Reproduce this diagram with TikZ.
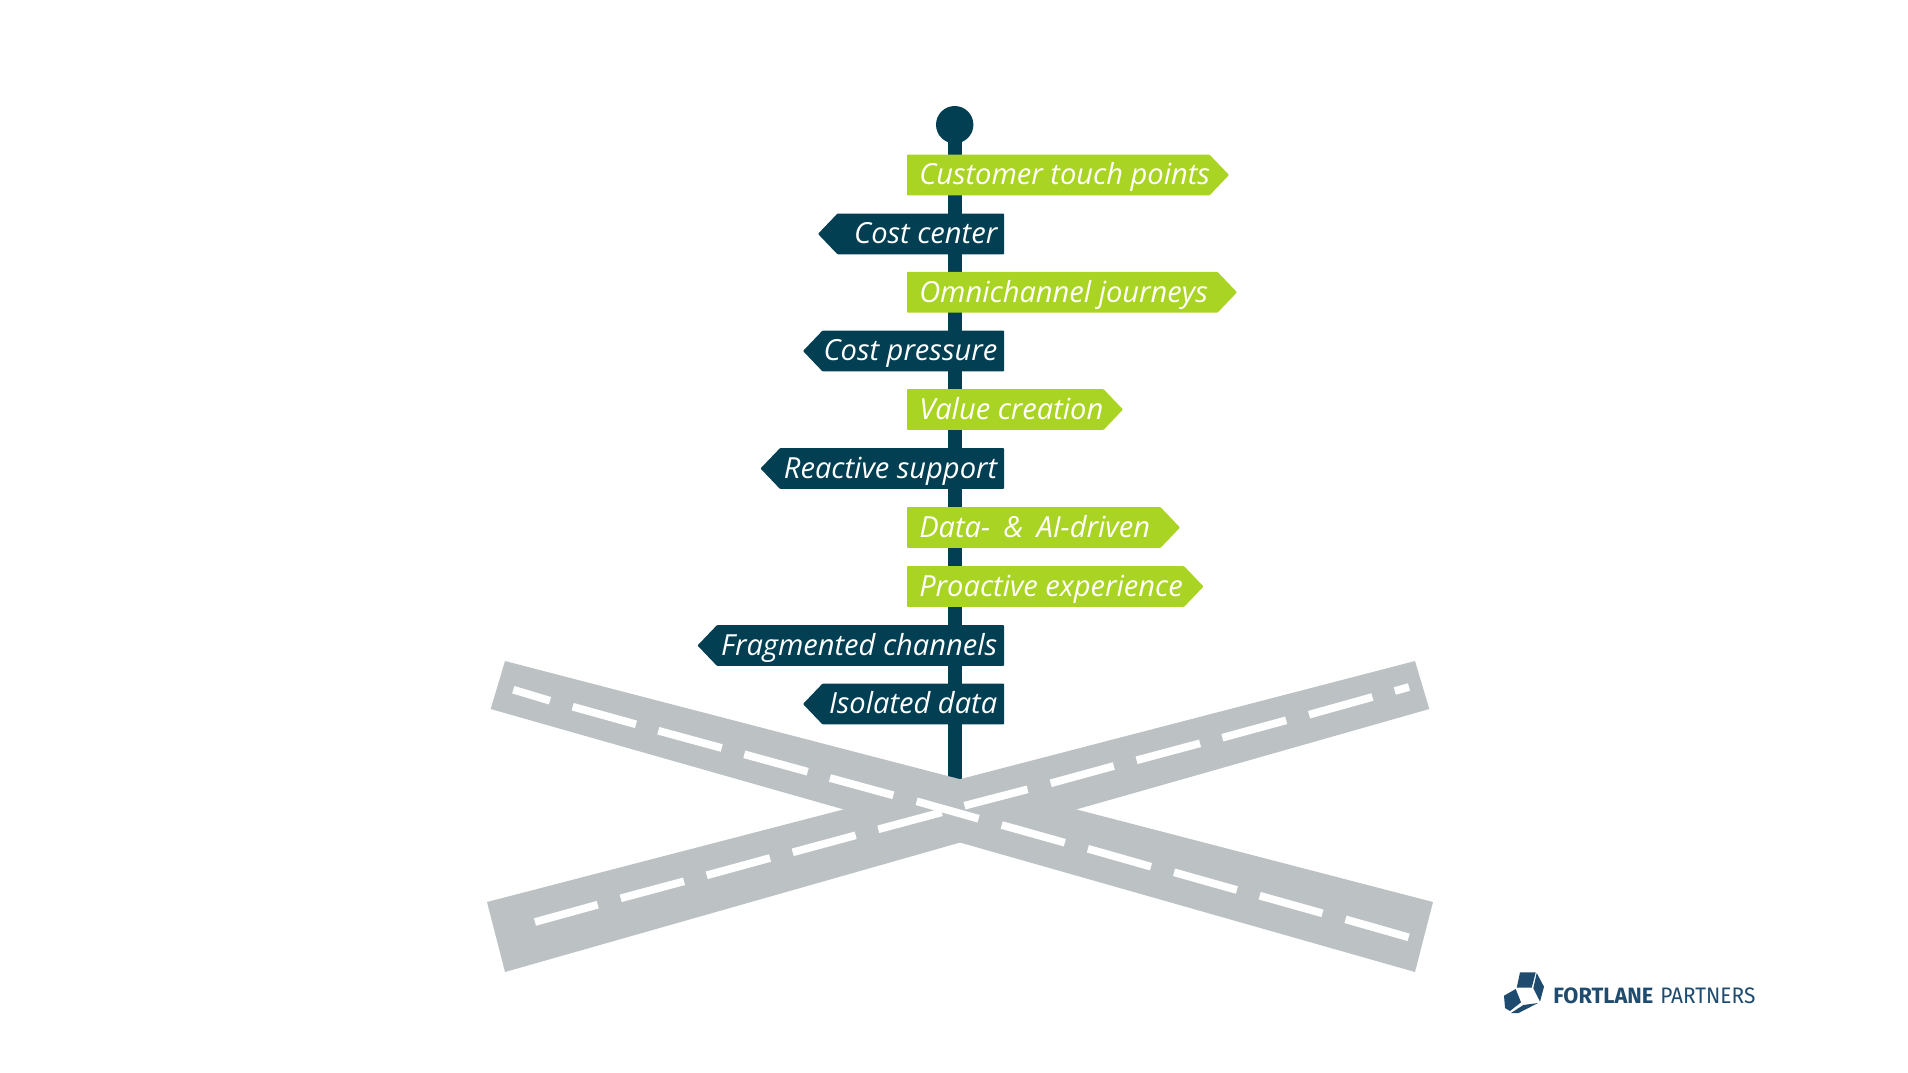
\documentclass[tikz,border=0pt]{standalone}
\usepackage{fontspec}
\setmainfont{Open Sans}
\newfontfamily\logofont{Fira Sans}
\definecolor{polecol}{HTML}{023F53}
\definecolor{greencol}{HTML}{AAD424}
\definecolor{roadcol}{HTML}{BCC2C4}
\definecolor{logocol}{HTML}{1F4B6E}
\tikzset{
  road/.style={fill=roadcol},
  lane/.style={draw=white,line width=5.8pt},
  signtext/.style={text=white,inner sep=0pt,font=\fontsize{21.8pt}{26pt}\selectfont\itshape},
  logomark/.style={fill=logocol},
  logotext/.style={anchor=base west,inner sep=0pt,text=logocol,font=\logofont},
}
\newcommand{\greensign}[4]{% name, y centre, tip x, text
  \fill[greencol,rounded corners=0.6pt] (907,#2-20.4) -- (#3-19.5,#2-20.4) -- (#3,#2) -- (#3-19.5,#2+20.4) -- (907,#2+20.4) -- cycle;
  \node[signtext,anchor=base west] (#1) at (919,#2+9.8) {#4};
}
\newcommand{\bluesign}[4]{%
  \fill[polecol,rounded corners=0.6pt] (1004,#2-20.4) -- (#3+19.5,#2-20.4) -- (#3,#2) -- (#3+19.5,#2+20.4) -- (1004,#2+20.4) -- cycle;
  \node[signtext,anchor=base east] (#1) at (997.5,#2+9.8) {#4};
}
\begin{document}
\begin{tikzpicture}[x=0.75pt,y=-0.75pt]
\useasboundingbox (0,0) rectangle (1908,1072);
% pole
\fill[polecol] (947.8,130) rectangle (961.5,790);
\fill[polecol] (954.7,124.7) circle[radius=18.7];
% roads
\fill[road] (505,661) -- (1433,902) -- (1415,972) -- (490.7,709) -- cycle;
\fill[road] (487,902) -- (1415,661) -- (1429.3,709) -- (505,972) -- cycle;
% road 2 lanes
\draw[lane] (535,922) -- (597.7,904.7);
\draw[lane] (620.7,898.3) -- (684,881.3);
\draw[lane] (706.7,875.3) -- (770,858);
\draw[lane] (792.7,852.3) -- (855.7,835.3);
\draw[lane] (878.3,829.3) -- (941.7,812.3);
\draw[lane] (964.5,805.7) -- (1027.6,789.3);
\draw[lane] (1050.7,783.3) -- (1113.8,766);
\draw[lane] (1136.6,760.3) -- (1200,743.3);
\draw[lane] (1222.4,737.7) -- (1286.2,720.3);
\draw[lane] (1309,714.7) -- (1372.4,697);
\draw[lane] (1394.8,691) -- (1409,687);
% road 1 lanes
\draw[lane] (513.3,689.7) -- (550,700.7);
\draw[lane] (572.7,706.7) -- (636,724.3);
\draw[lane] (658.3,730.7) -- (721.7,748);
\draw[lane] (744.3,754.3) -- (807.7,771.7);
\draw[lane] (830,778) -- (893.3,795.3);
\draw[lane] (916.6,801.3) -- (978.6,818.7);
\draw[lane] (1001.7,825) -- (1064.8,842.7);
\draw[lane] (1087.9,848.7) -- (1151,866.7);
\draw[lane] (1174.1,872.3) -- (1236.9,890);
\draw[lane] (1259.7,895.7) -- (1322.4,913.3);
\draw[lane] (1345.5,919.3) -- (1408.6,937.3);
% signs
\greensign{s1}{175}{1229}{Customer touch points}
\bluesign{s2}{233.9}{818}{Cost center}
\greensign{s3}{292.3}{1237}{Omnichannel journeys}
\bluesign{s4}{351}{803}{Cost pressure}
\greensign{s5}{409.5}{1123}{Value creation}
\bluesign{s6}{468.5}{760.5}{Reactive support}
\greensign{s7}{527.5}{1180}{Data-\hspace{0.2em} \&\hspace{0.2em} AI-driven}
\greensign{s8}{586.5}{1203.5}{Proactive experience}
\bluesign{s9}{645.5}{697.5}{Fragmented channels}
\bluesign{s10}{704}{803}{Isolated data}
% logo
\fill[logomark] (1520,972.3) -- (1535.7,972.3) -- (1531.7,987.7) -- (1516.7,987.7) -- cycle;
\fill[logomark] (1536.7,973) -- (1544,986.7) -- (1540,1001.7) -- (1533.3,988.3) -- cycle;
\fill[logomark] (1504,995.7) -- (1515.7,989) -- (1521,1002.3) -- (1510,1011) -- (1505,1008) -- cycle;
\fill[logomark] (1511,1013) -- (1523.3,1005) -- (1538,1003) -- (1518.5,1013) -- cycle;
\node[logotext] (logoa) at (1553,1003.3) {\resizebox{75pt}{11.8pt}{\bfseries FORTLANE}};
\node[logotext] (logob) at (1660,1003.3) {\resizebox{71.3pt}{11.8pt}{PARTNERS}};
\end{tikzpicture}
\end{document}
